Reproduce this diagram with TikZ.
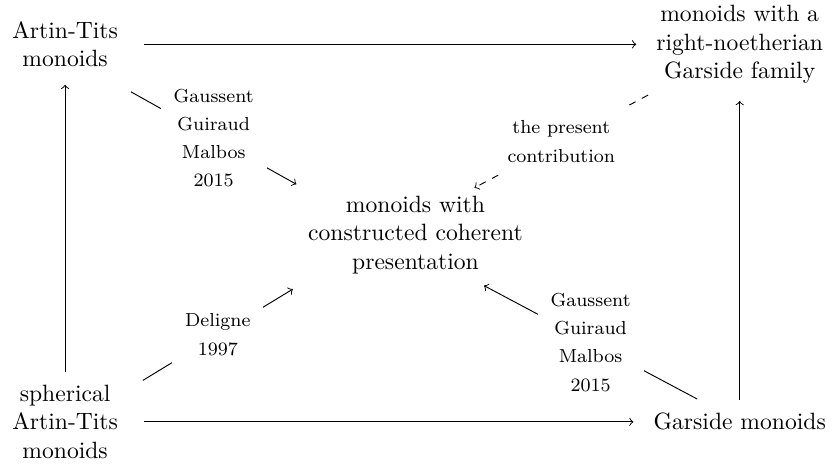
\documentclass[tikz,border=0pt]{standalone}
\usepackage{tikz}
\usetikzlibrary{positioning,arrows}

\begin{document}
\begin{tikzpicture}[
  node distance=2.84cm and 5.22cm, on grid,
  mynode/.style={align=center},
  mylab/.style={font=\footnotesize\setlength{\baselineskip}{12pt},align=center,fill=white,inner sep=5.5pt},
  myarr/.style={->},
  mydash/.style={->,dashed}
]
\useasboundingbox (0,0) rectangle (12.41,6.91);

\node[mynode] (cen) at (6.19,3.41) {monoids with\\constructed coherent\\presentation};
\node[mynode, above left=2.84cm and 5.22cm of cen] (atm) {Artin-Tits\\monoids};
\node[mynode, below left=2.785cm and 5.22cm of cen] (sam) {spherical\\Artin-Tits\\monoids};
\node[mynode, above right=2.84cm and 4.83cm of cen] (rnf) {monoids with a\\right-noetherian\\Garside family};
\node[mynode, below right=2.785cm and 4.83cm of cen] (gar) {Garside monoids};

% frame of the square
\draw[myarr, shorten <=7.5pt, shorten >=5pt] (atm) -- (rnf);
\draw[myarr, shorten <=7.5pt, shorten >=5pt] (sam) -- (gar);
\draw[myarr, shorten <=2pt, shorten >=4pt] (sam) -- (atm);
\draw[myarr, shorten <=2pt, shorten >=4pt] (gar) -- (rnf);

% towards the centre
\draw[myarr] ([shift={(2pt,-7pt)}]atm.south east) -- node[mylab] {Gaussent\\Guiraud\\Malbos\\2015} ([shift={(-1.5pt,1.5pt)}]cen.north west);
\draw[myarr] ([shift={(7pt,-1.5pt)}]sam.north east) -- node[mylab] {Deligne\\1997} ([shift={(-3pt,-3pt)}]cen.south west);
\draw[myarr] ([shift={(-18pt,2.5pt)}]gar.north) -- node[mylab] {Gaussent\\Guiraud\\Malbos\\2015} ([shift={(29pt,-1.5pt)}]cen.south);
\draw[mydash] ([yshift=-1.5pt]rnf.south west) -- node[mylab] {the present\\contribution} ([xshift=25pt]cen.north);
\end{tikzpicture}
\end{document}
